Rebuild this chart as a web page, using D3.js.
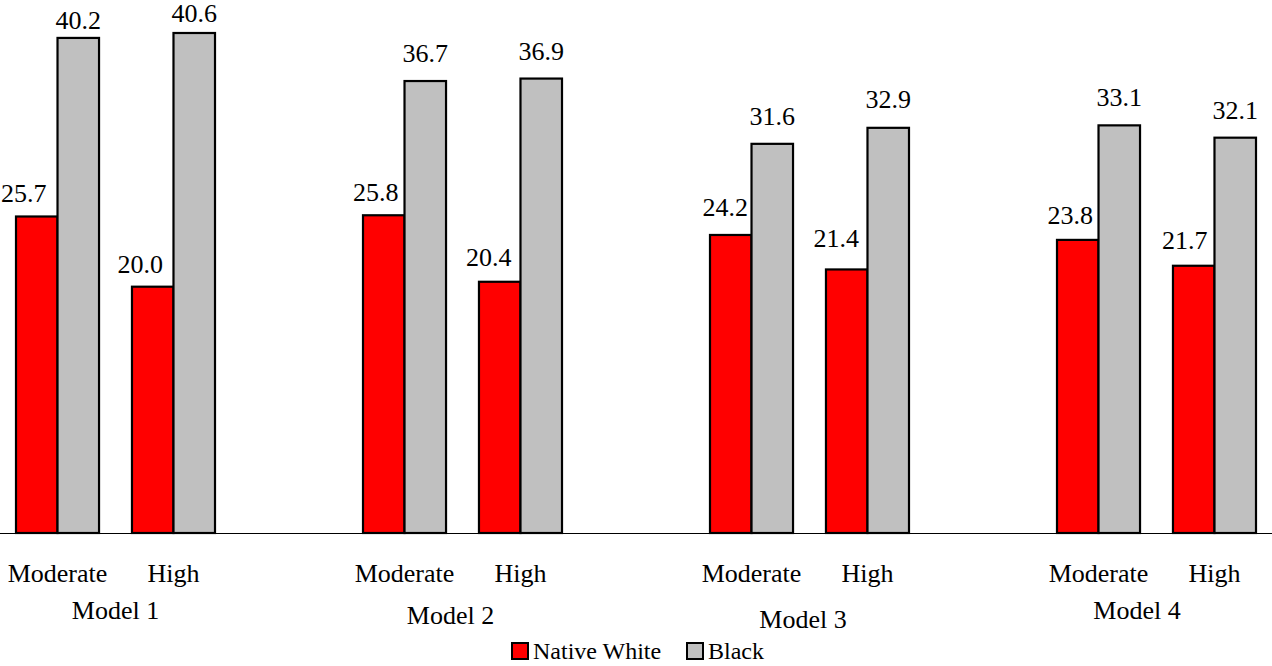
<!DOCTYPE html>
<html>
<head>
<meta charset="utf-8">
<script src="https://cdn.jsdelivr.net/npm/d3@7/dist/d3.min.js"></script>
</head>
<body style="margin:0">
<svg id="chart" width="1272" height="666"></svg>
<script>
// Data
const models = ["Model 1", "Model 2", "Model 3", "Model 4"];
const levels = ["Moderate", "High"];
const groups = ["Native White", "Black"];
const nativeWhite = [25.7, 20.0, 25.8, 20.4, 24.2, 21.4, 23.8, 21.7];
const black = [40.2, 40.6, 36.7, 36.9, 31.6, 32.9, 33.1, 32.1];

// Label placement tweaks (pixels), one per bar in model/level order
const whiteLabelDx = [-13, -12.5, -8, -11, -5.5, -10.5, -7.5, -9];
const whiteLabelGap = [14, 14, 14, 16, 19, 22, 16, 17];
const blackLabelGap = [9, 11, 19, 19, 19, 20, 19, 19];
const modelLabelDx = [0, -12, -6.5, -19.5];
const modelLabelY = [619, 624, 628, 619];

const colors = { "Native White": "#ff0000", "Black": "#c0c0c0" };
const fontName = "Liberation Serif";

const svg = d3.select("#chart");
const baseY = 533;

const x0 = d3.scaleBand().domain(models).range([16, 1256]).paddingInner(0.4265).paddingOuter(0);
const x1 = d3.scaleBand().domain(levels).range([0, x0.bandwidth()]).paddingInner(0.284).paddingOuter(0);
const x2 = d3.scaleBand().domain(groups).range([0, x1.bandwidth()]).padding(0);
const y = d3.scaleLinear().domain([0, 40.6]).range([baseY, 33]);

// Flatten into records
const rows = [];
models.forEach((m, mi) => {
  levels.forEach((l, li) => {
    const i = mi * levels.length + li;
    rows.push({ model: m, level: l, group: "Native White", value: nativeWhite[i],
                dx: whiteLabelDx[i], gap: whiteLabelGap[i] });
    rows.push({ model: m, level: l, group: "Black", value: black[i],
                dx: 0, gap: blackLabelGap[i] });
  });
});

const xOf = d => x0(d.model) + x1(d.level) + x2(d.group);

// Baseline axis
svg.append("line")
  .attr("x1", 0).attr("x2", 1272)
  .attr("y1", baseY + 0.5).attr("y2", baseY + 0.5)
  .attr("stroke", "#000").attr("stroke-width", 1.2);

// Bars
svg.append("g").selectAll("rect").data(rows).join("rect")
  .attr("x", d => xOf(d))
  .attr("y", d => y(d.value))
  .attr("width", x2.bandwidth())
  .attr("height", d => baseY - y(d.value))
  .attr("fill", d => colors[d.group])
  .attr("stroke", "#000")
  .attr("stroke-width", 2.2);

// Value labels
svg.append("g").selectAll("text").data(rows).join("text")
  .attr("x", d => xOf(d) + x2.bandwidth() / 2 + d.dx)
  .attr("y", d => y(d.value) - d.gap)
  .attr("text-anchor", "middle")
  .attr("font-size", 26)
  .style("font-family", fontName)
  .text(d => d.value.toFixed(1));

// Level labels
const levelG = svg.append("g");
models.forEach(m => {
  levels.forEach(l => {
    levelG.append("text")
      .attr("x", x0(m) + x1(l) + x1.bandwidth() / 2)
      .attr("y", 582)
      .attr("text-anchor", "middle")
      .attr("font-size", 26)
      .style("font-family", fontName)
      .text(l);
  });
});

// Model labels
svg.append("g").selectAll("text").data(models).join("text")
  .attr("x", (m, i) => x0(m) + x0.bandwidth() / 2 + modelLabelDx[i])
  .attr("y", (m, i) => modelLabelY[i])
  .attr("text-anchor", "middle")
  .attr("font-size", 26)
  .style("font-family", fontName)
  .text(m => m);

// Legend
const legendItems = [
  { name: "Native White", x: 512 },
  { name: "Black", x: 687 }
];
const lg = svg.append("g").selectAll("g").data(legendItems).join("g")
  .attr("transform", d => `translate(${d.x},643)`);
lg.append("rect")
  .attr("width", 16).attr("height", 16)
  .attr("fill", d => colors[d.name])
  .attr("stroke", "#000").attr("stroke-width", 2);
lg.append("text")
  .attr("x", 21).attr("y", 16)
  .attr("font-size", 24)
  .style("font-family", fontName)
  .text(d => d.name);
</script>
</body>
</html>
